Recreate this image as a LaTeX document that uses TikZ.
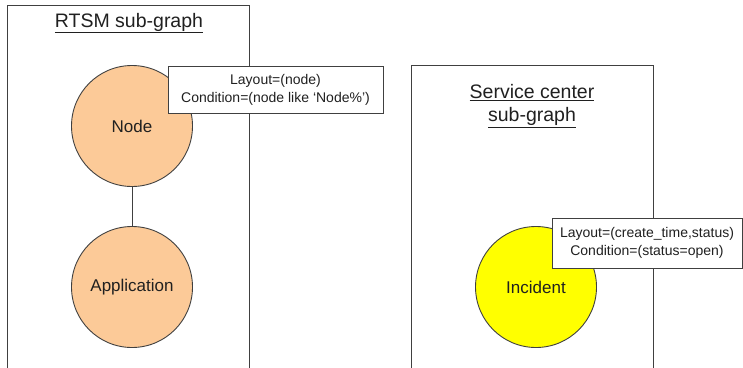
\documentclass[tikz,border=0pt]{standalone}
\usepackage{fontspec}
\setmainfont{Liberation Sans}
\usepackage{xcolor}
\usetikzlibrary{positioning,backgrounds}
\pgfdeclarelayer{edgelayer}
\pgfdeclarelayer{nodelayer}
\pgfsetlayers{background,edgelayer,nodelayer,main}
\definecolor{peach}{RGB}{252,202,152}
\definecolor{lemon}{RGB}{255,255,0}
\definecolor{ink}{RGB}{64,64,64}
\definecolor{txt}{RGB}{32,32,32}
\tikzstyle{none}=[inner sep=0mm]
\tikzstyle{frame}=[draw=ink,line width=0.9pt]
\tikzstyle{title}=[inner sep=0mm,text=txt,font=\fontsize{19.5}{23}\selectfont,align=center]
\tikzstyle{ball}=[shape=circle,draw=ink,line width=0.9pt,minimum size=121pt,inner sep=0pt,text=txt,font=\fontsize{17}{20}\selectfont]
\tikzstyle{oc}=[ball,fill=peach]
\tikzstyle{yc}=[ball,fill=lemon]
\tikzstyle{note}=[draw=ink,line width=0.9pt,fill=white,inner sep=0pt,text=txt,align=center,font=\fontsize{14}{18}\selectfont]

\begin{document}
\begin{tikzpicture}[x=1pt,y=-1pt]
	\useasboundingbox (0,0) rectangle (743,367);
	\begin{pgfonlayer}{nodelayer}
		\node [style=title] (t1) at (129, 23) {\underline{RTSM sub-graph}};
		\node [style=title] (t2) at (532, 106) {\underline{Service center}\\\underline{sub-graph}};
		\node [style=oc] (nd) at (132, 126) {Node};
		\node [style=oc] (app) at (132, 287) {Application};
		\node [style=yc] (inc) at (536, 287) {Incident};
	\end{pgfonlayer}
	\begin{pgfonlayer}{edgelayer}
		\draw [style=frame] (7, 368) -- (7, 5) -- (249, 5) -- (249, 368);
		\draw [style=frame] (411, 368) -- (411, 65) -- (653, 65) -- (653, 368);
		\draw [style=frame] (nd) -- (app);
	\end{pgfonlayer}
	\node [style=note, minimum width=215pt, minimum height=47pt] (n1) at (275.5, 89.5) {Layout=(node)\\Condition=(node like `Node\%')};
	\node [style=note, minimum width=190pt, minimum height=50pt] (n2) at (647, 243) {Layout=(create\_time,status)\\Condition=(status=open)};
\end{tikzpicture}
\end{document}
